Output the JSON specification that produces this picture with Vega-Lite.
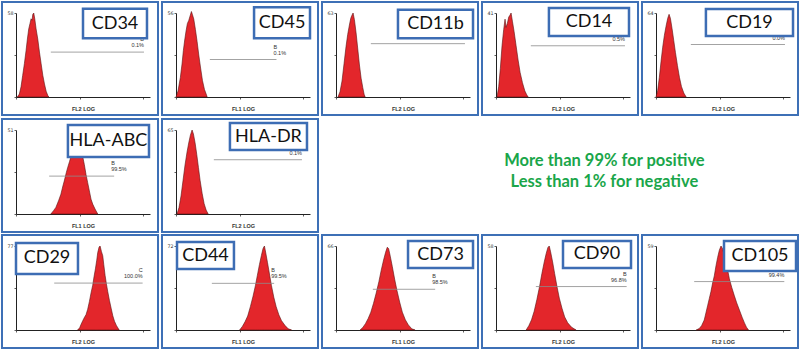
{
"$schema":"https://vega.github.io/schema/vega-lite/v6.json",
"background":"#ffffff",
"padding":0,
"config":{
 "view":{"stroke":null},
 "axis":{"grid":false,"zindex":0,"domainColor":"#222222","domainWidth":1,"tickColor":"#333333","tickWidth":0.8,"tickSize":2,"labelColor":"#333333","labelFont":"DejaVu Sans","labelFontSize":4.8,"labelPadding":1,"titleFont":"Liberation Sans","titleFontSize":5.5,"titleFontWeight":"bold","titleColor":"#333333","titlePadding":2,"labelOverlap":false,"labelFlush":false},
 "text":{"font":"Liberation Sans"}
},
"datasets":{
 "histograms":[
  {"marker":"CD34","fl":0.04,"count":0},{"marker":"CD34","fl":0.10,"count":2},{"marker":"CD34","fl":0.15,"count":7},{"marker":"CD34","fl":0.20,"count":15},{"marker":"CD34","fl":0.25,"count":23},{"marker":"CD34","fl":0.30,"count":32},{"marker":"CD34","fl":0.34,"count":40},{"marker":"CD34","fl":0.38,"count":47},{"marker":"CD34","fl":0.42,"count":51},{"marker":"CD34","fl":0.45,"count":54},{"marker":"CD34","fl":0.48,"count":53},{"marker":"CD34","fl":0.50,"count":57},{"marker":"CD34","fl":0.53,"count":58},{"marker":"CD34","fl":0.56,"count":54},{"marker":"CD34","fl":0.60,"count":47},{"marker":"CD34","fl":0.65,"count":40},{"marker":"CD34","fl":0.70,"count":31},{"marker":"CD34","fl":0.75,"count":23},{"marker":"CD34","fl":0.80,"count":15},{"marker":"CD34","fl":0.85,"count":9},{"marker":"CD34","fl":0.90,"count":4},{"marker":"CD34","fl":0.95,"count":1},{"marker":"CD34","fl":0.98,"count":0},
  {"marker":"CD45","fl":0.00,"count":0},{"marker":"CD45","fl":0.06,"count":4},{"marker":"CD45","fl":0.13,"count":13},{"marker":"CD45","fl":0.18,"count":22},{"marker":"CD45","fl":0.22,"count":31},{"marker":"CD45","fl":0.26,"count":38},{"marker":"CD45","fl":0.30,"count":44},{"marker":"CD45","fl":0.34,"count":49},{"marker":"CD45","fl":0.38,"count":51},{"marker":"CD45","fl":0.42,"count":54},{"marker":"CD45","fl":0.46,"count":57},{"marker":"CD45","fl":0.49,"count":55},{"marker":"CD45","fl":0.53,"count":52},{"marker":"CD45","fl":0.58,"count":45},{"marker":"CD45","fl":0.63,"count":37},{"marker":"CD45","fl":0.68,"count":28},{"marker":"CD45","fl":0.73,"count":20},{"marker":"CD45","fl":0.79,"count":11},{"marker":"CD45","fl":0.85,"count":5},{"marker":"CD45","fl":0.90,"count":2},{"marker":"CD45","fl":0.93,"count":0},
  {"marker":"CD11b","fl":0.06,"count":0},{"marker":"CD11b","fl":0.12,"count":4},{"marker":"CD11b","fl":0.18,"count":12},{"marker":"CD11b","fl":0.24,"count":25},{"marker":"CD11b","fl":0.30,"count":38},{"marker":"CD11b","fl":0.35,"count":47},{"marker":"CD11b","fl":0.40,"count":54},{"marker":"CD11b","fl":0.44,"count":59},{"marker":"CD11b","fl":0.47,"count":61},{"marker":"CD11b","fl":0.51,"count":63},{"marker":"CD11b","fl":0.55,"count":58},{"marker":"CD11b","fl":0.60,"count":48},{"marker":"CD11b","fl":0.65,"count":36},{"marker":"CD11b","fl":0.70,"count":24},{"marker":"CD11b","fl":0.75,"count":14},{"marker":"CD11b","fl":0.80,"count":7},{"marker":"CD11b","fl":0.84,"count":2},{"marker":"CD11b","fl":0.87,"count":0},
  {"marker":"CD14","fl":0.03,"count":0},{"marker":"CD14","fl":0.08,"count":5},{"marker":"CD14","fl":0.13,"count":14},{"marker":"CD14","fl":0.18,"count":25},{"marker":"CD14","fl":0.23,"count":33},{"marker":"CD14","fl":0.27,"count":38},{"marker":"CD14","fl":0.30,"count":34},{"marker":"CD14","fl":0.34,"count":36},{"marker":"CD14","fl":0.38,"count":39},{"marker":"CD14","fl":0.42,"count":40},{"marker":"CD14","fl":0.45,"count":41},{"marker":"CD14","fl":0.49,"count":37},{"marker":"CD14","fl":0.54,"count":32},{"marker":"CD14","fl":0.60,"count":25},{"marker":"CD14","fl":0.66,"count":18},{"marker":"CD14","fl":0.72,"count":12},{"marker":"CD14","fl":0.79,"count":7},{"marker":"CD14","fl":0.86,"count":3},{"marker":"CD14","fl":0.92,"count":1},{"marker":"CD14","fl":0.96,"count":0},
  {"marker":"CD19","fl":0.00,"count":0},{"marker":"CD19","fl":0.05,"count":5},{"marker":"CD19","fl":0.10,"count":15},{"marker":"CD19","fl":0.15,"count":27},{"marker":"CD19","fl":0.20,"count":38},{"marker":"CD19","fl":0.25,"count":47},{"marker":"CD19","fl":0.30,"count":54},{"marker":"CD19","fl":0.35,"count":60},{"marker":"CD19","fl":0.39,"count":63},{"marker":"CD19","fl":0.43,"count":60},{"marker":"CD19","fl":0.48,"count":52},{"marker":"CD19","fl":0.53,"count":43},{"marker":"CD19","fl":0.58,"count":34},{"marker":"CD19","fl":0.64,"count":24},{"marker":"CD19","fl":0.70,"count":15},{"marker":"CD19","fl":0.76,"count":8},{"marker":"CD19","fl":0.83,"count":3},{"marker":"CD19","fl":0.90,"count":0},
  {"marker":"HLA-ABC","fl":1.04,"count":0},{"marker":"HLA-ABC","fl":1.12,"count":2},{"marker":"HLA-ABC","fl":1.19,"count":4},{"marker":"HLA-ABC","fl":1.27,"count":8},{"marker":"HLA-ABC","fl":1.34,"count":12},{"marker":"HLA-ABC","fl":1.40,"count":17},{"marker":"HLA-ABC","fl":1.44,"count":20},{"marker":"HLA-ABC","fl":1.50,"count":25},{"marker":"HLA-ABC","fl":1.54,"count":28},{"marker":"HLA-ABC","fl":1.60,"count":32},{"marker":"HLA-ABC","fl":1.64,"count":35},{"marker":"HLA-ABC","fl":1.70,"count":40},{"marker":"HLA-ABC","fl":1.76,"count":45},{"marker":"HLA-ABC","fl":1.82,"count":49},{"marker":"HLA-ABC","fl":1.86,"count":50},{"marker":"HLA-ABC","fl":1.90,"count":47},{"marker":"HLA-ABC","fl":1.95,"count":41},{"marker":"HLA-ABC","fl":1.99,"count":35},{"marker":"HLA-ABC","fl":2.04,"count":30},{"marker":"HLA-ABC","fl":2.09,"count":24},{"marker":"HLA-ABC","fl":2.14,"count":19},{"marker":"HLA-ABC","fl":2.19,"count":14},{"marker":"HLA-ABC","fl":2.24,"count":9},{"marker":"HLA-ABC","fl":2.29,"count":6},{"marker":"HLA-ABC","fl":2.36,"count":3},{"marker":"HLA-ABC","fl":2.44,"count":0},
  {"marker":"HLA-DR","fl":0.03,"count":0},{"marker":"HLA-DR","fl":0.09,"count":5},{"marker":"HLA-DR","fl":0.15,"count":14},{"marker":"HLA-DR","fl":0.21,"count":26},{"marker":"HLA-DR","fl":0.27,"count":38},{"marker":"HLA-DR","fl":0.33,"count":48},{"marker":"HLA-DR","fl":0.38,"count":55},{"marker":"HLA-DR","fl":0.43,"count":61},{"marker":"HLA-DR","fl":0.48,"count":65},{"marker":"HLA-DR","fl":0.52,"count":62},{"marker":"HLA-DR","fl":0.57,"count":55},{"marker":"HLA-DR","fl":0.62,"count":46},{"marker":"HLA-DR","fl":0.67,"count":36},{"marker":"HLA-DR","fl":0.72,"count":26},{"marker":"HLA-DR","fl":0.78,"count":16},{"marker":"HLA-DR","fl":0.84,"count":8},{"marker":"HLA-DR","fl":0.90,"count":3},{"marker":"HLA-DR","fl":0.96,"count":0},
  {"marker":"CD29","fl":1.84,"count":0},{"marker":"CD29","fl":1.90,"count":2},{"marker":"CD29","fl":1.94,"count":5},{"marker":"CD29","fl":2.00,"count":9},{"marker":"CD29","fl":2.05,"count":12},{"marker":"CD29","fl":2.09,"count":14},{"marker":"CD29","fl":2.14,"count":19},{"marker":"CD29","fl":2.19,"count":26},{"marker":"CD29","fl":2.24,"count":34},{"marker":"CD29","fl":2.29,"count":41},{"marker":"CD29","fl":2.33,"count":49},{"marker":"CD29","fl":2.37,"count":56},{"marker":"CD29","fl":2.41,"count":64},{"marker":"CD29","fl":2.44,"count":71},{"marker":"CD29","fl":2.48,"count":76},{"marker":"CD29","fl":2.51,"count":77},{"marker":"CD29","fl":2.55,"count":72},{"marker":"CD29","fl":2.59,"count":68},{"marker":"CD29","fl":2.62,"count":60},{"marker":"CD29","fl":2.66,"count":50},{"marker":"CD29","fl":2.70,"count":42},{"marker":"CD29","fl":2.74,"count":35},{"marker":"CD29","fl":2.79,"count":27},{"marker":"CD29","fl":2.84,"count":20},{"marker":"CD29","fl":2.89,"count":13},{"marker":"CD29","fl":2.94,"count":8},{"marker":"CD29","fl":3.00,"count":4},{"marker":"CD29","fl":3.08,"count":0},
  {"marker":"CD44","fl":1.90,"count":0},{"marker":"CD44","fl":1.98,"count":3},{"marker":"CD44","fl":2.06,"count":7},{"marker":"CD44","fl":2.14,"count":12},{"marker":"CD44","fl":2.22,"count":20},{"marker":"CD44","fl":2.30,"count":29},{"marker":"CD44","fl":2.37,"count":38},{"marker":"CD44","fl":2.43,"count":47},{"marker":"CD44","fl":2.49,"count":56},{"marker":"CD44","fl":2.55,"count":64},{"marker":"CD44","fl":2.60,"count":70},{"marker":"CD44","fl":2.64,"count":72},{"marker":"CD44","fl":2.68,"count":66},{"marker":"CD44","fl":2.73,"count":58},{"marker":"CD44","fl":2.79,"count":48},{"marker":"CD44","fl":2.85,"count":38},{"marker":"CD44","fl":2.92,"count":28},{"marker":"CD44","fl":2.99,"count":20},{"marker":"CD44","fl":3.07,"count":13},{"marker":"CD44","fl":3.15,"count":8},{"marker":"CD44","fl":3.25,"count":4},{"marker":"CD44","fl":3.35,"count":1},{"marker":"CD44","fl":3.45,"count":0},
  {"marker":"CD73","fl":0.72,"count":0},{"marker":"CD73","fl":0.80,"count":2},{"marker":"CD73","fl":0.88,"count":5},{"marker":"CD73","fl":0.96,"count":9},{"marker":"CD73","fl":1.04,"count":14},{"marker":"CD73","fl":1.12,"count":21},{"marker":"CD73","fl":1.20,"count":29},{"marker":"CD73","fl":1.28,"count":38},{"marker":"CD73","fl":1.35,"count":47},{"marker":"CD73","fl":1.42,"count":55},{"marker":"CD73","fl":1.48,"count":61},{"marker":"CD73","fl":1.53,"count":65},{"marker":"CD73","fl":1.57,"count":64},{"marker":"CD73","fl":1.62,"count":58},{"marker":"CD73","fl":1.68,"count":50},{"marker":"CD73","fl":1.75,"count":40},{"marker":"CD73","fl":1.82,"count":31},{"marker":"CD73","fl":1.90,"count":22},{"marker":"CD73","fl":1.98,"count":14},{"marker":"CD73","fl":2.07,"count":8},{"marker":"CD73","fl":2.16,"count":4},{"marker":"CD73","fl":2.26,"count":1},{"marker":"CD73","fl":2.36,"count":0},
  {"marker":"CD90","fl":0.90,"count":0},{"marker":"CD90","fl":0.98,"count":3},{"marker":"CD90","fl":1.06,"count":7},{"marker":"CD90","fl":1.14,"count":13},{"marker":"CD90","fl":1.22,"count":21},{"marker":"CD90","fl":1.30,"count":30},{"marker":"CD90","fl":1.37,"count":39},{"marker":"CD90","fl":1.44,"count":47},{"marker":"CD90","fl":1.50,"count":53},{"marker":"CD90","fl":1.55,"count":57},{"marker":"CD90","fl":1.59,"count":58},{"marker":"CD90","fl":1.63,"count":54},{"marker":"CD90","fl":1.69,"count":47},{"marker":"CD90","fl":1.75,"count":39},{"marker":"CD90","fl":1.82,"count":30},{"marker":"CD90","fl":1.89,"count":22},{"marker":"CD90","fl":1.97,"count":15},{"marker":"CD90","fl":2.05,"count":9},{"marker":"CD90","fl":2.14,"count":5},{"marker":"CD90","fl":2.25,"count":2},{"marker":"CD90","fl":2.39,"count":0},
  {"marker":"CD105","fl":1.20,"count":0},{"marker":"CD105","fl":1.29,"count":1},{"marker":"CD105","fl":1.36,"count":3},{"marker":"CD105","fl":1.44,"count":7},{"marker":"CD105","fl":1.49,"count":12},{"marker":"CD105","fl":1.54,"count":17},{"marker":"CD105","fl":1.59,"count":22},{"marker":"CD105","fl":1.64,"count":27},{"marker":"CD105","fl":1.69,"count":33},{"marker":"CD105","fl":1.74,"count":38},{"marker":"CD105","fl":1.79,"count":45},{"marker":"CD105","fl":1.84,"count":51},{"marker":"CD105","fl":1.89,"count":56},{"marker":"CD105","fl":1.94,"count":59},{"marker":"CD105","fl":1.99,"count":57},{"marker":"CD105","fl":2.04,"count":52},{"marker":"CD105","fl":2.09,"count":48},{"marker":"CD105","fl":2.14,"count":42},{"marker":"CD105","fl":2.19,"count":36},{"marker":"CD105","fl":2.26,"count":30},{"marker":"CD105","fl":2.34,"count":24},{"marker":"CD105","fl":2.41,"count":19},{"marker":"CD105","fl":2.49,"count":14},{"marker":"CD105","fl":2.57,"count":9},{"marker":"CD105","fl":2.64,"count":5},{"marker":"CD105","fl":2.70,"count":2},{"marker":"CD105","fl":2.76,"count":0}
 ],
 "gates":[
  {"marker":"CD34","gate":"B","pct":"0.1%","start":1.04,"end":3.82,"level":31},
  {"marker":"CD45","gate":"B","pct":"0.1%","start":1.01,"end":3.0,"level":25},
  {"marker":"CD11b","gate":"B","pct":"0.1%","start":1.04,"end":3.85,"level":40},
  {"marker":"CD14","gate":"B","pct":"0.5%","start":1.04,"end":3.85,"level":25},
  {"marker":"CD19","gate":"B","pct":"0.0%","start":1.04,"end":3.85,"level":40},
  {"marker":"HLA-ABC","gate":"B","pct":"99.5%","start":0.99,"end":2.93,"level":23},
  {"marker":"HLA-DR","gate":"B","pct":"0.1%","start":1.13,"end":3.76,"level":42},
  {"marker":"CD29","gate":"C","pct":"100.0%","start":1.14,"end":3.78,"level":43},
  {"marker":"CD44","gate":"B","pct":"99.5%","start":1.07,"end":2.93,"level":40},
  {"marker":"CD73","gate":"B","pct":"98.5%","start":1.10,"end":2.96,"level":32},
  {"marker":"CD90","gate":"B","pct":"96.8%","start":1.19,"end":3.9,"level":30},
  {"marker":"CD105","gate":"B","pct":"99.4%","start":1.14,"end":3.83,"level":34}
 ],
 "notes":[
  {"line":1,"text":"More than 99% for positive"},
  {"line":2,"text":"Less than 1% for negative"}
 ]
},
"vconcat":[
 {"spacing":0,"hconcat":[
  {"width":134,"height":84,"layer":[
   {"data":{"name":"gates"},"transform":[{"filter":"datum.marker==='CD34'"}],"mark":{"type":"rect","filled":false,"stroke":"#3e70b6","strokeWidth":2},"encoding":{"x":{"datum":-0.418,"type":"quantitative"},"x2":{"datum":4.239},"y":{"datum":65.6,"type":"quantitative"},"y2":{"datum":-12.4}}},
   {"data":{"name":"histograms"},"transform":[{"filter":"datum.marker==='CD34'"}],"mark":{"type":"area","color":"#e3262b","stroke":"#5a1212","strokeWidth":0.6},"encoding":{"x":{"field":"fl","type":"quantitative","scale":{"domain":[0,4],"nice":false,"zero":false},"axis":{"title":"FL2 LOG","values":[0,0.301,0.477,0.602,0.699,0.778,0.845,0.903,0.954,1,1.301,1.477,1.602,1.699,1.778,1.845,1.903,1.954,2,2.301,2.477,2.602,2.699,2.778,2.845,2.903,2.954,3,3.301,3.477,3.602,3.699,3.778,3.845,3.903,3.954,4],"labelExpr":"datum.value==1?'10¹':datum.value==2?'10²':datum.value==3?'10³':datum.value==4?'10⁴':''"}},"y":{"field":"count","type":"quantitative","scale":{"domain":[0,58],"nice":false,"zero":false},"axis":{"title":null,"values":[0,7.25,14.5,21.75,29,36.25,43.5,50.75,58],"labelExpr":"datum.index==1?datum.label:''"}}}},
   {"data":{"name":"gates"},"transform":[{"filter":"datum.marker==='CD34'"}],"mark":{"type":"rule","color":"#8c8c8c","strokeWidth":0.8},"encoding":{"x":{"field":"start","type":"quantitative"},"x2":{"field":"end"},"y":{"field":"level","type":"quantitative"}}},
   {"data":{"name":"gates"},"transform":[{"filter":"datum.marker==='CD34'"}],"mark":{"type":"text","align":"right","dy":-13,"fontSize":5.5,"color":"#333333"},"encoding":{"x":{"field":"end","type":"quantitative"},"y":{"field":"level","type":"quantitative"},"text":{"field":"gate"}}},
   {"data":{"name":"gates"},"transform":[{"filter":"datum.marker==='CD34'"}],"mark":{"type":"text","align":"right","dy":-7,"fontSize":5.5,"color":"#333333"},"encoding":{"x":{"field":"end","type":"quantitative"},"y":{"field":"level","type":"quantitative"},"text":{"field":"pct"}}},
   {"data":{"name":"gates"},"transform":[{"filter":"datum.marker==='CD34'"}],"mark":{"type":"rect","fill":"#ffffff","stroke":"#3d6db4","strokeWidth":2.5},"encoding":{"x":{"datum":2.0,"type":"quantitative"},"x2":{"datum":3.91},"y":{"datum":60.9,"type":"quantitative"},"y2":{"datum":40.6}}},
   {"data":{"name":"gates"},"transform":[{"filter":"datum.marker==='CD34'"}],"mark":{"type":"text","font":"Lato","fontSize":18,"color":"#111111"},"encoding":{"x":{"datum":2.955,"type":"quantitative"},"y":{"datum":50.75,"type":"quantitative"},"text":{"field":"marker"}}}
  ]},
  {"width":134,"height":84,"layer":[
   {"data":{"name":"gates"},"transform":[{"filter":"datum.marker==='CD45'"}],"mark":{"type":"rect","filled":false,"stroke":"#3e70b6","strokeWidth":2},"encoding":{"x":{"datum":-0.418,"type":"quantitative"},"x2":{"datum":4.239},"y":{"datum":63.3,"type":"quantitative"},"y2":{"datum":-12.0}}},
   {"data":{"name":"histograms"},"transform":[{"filter":"datum.marker==='CD45'"}],"mark":{"type":"area","color":"#e3262b","stroke":"#5a1212","strokeWidth":0.6},"encoding":{"x":{"field":"fl","type":"quantitative","scale":{"domain":[0,4],"nice":false,"zero":false},"axis":{"title":"FL1 LOG","values":[0,0.301,0.477,0.602,0.699,0.778,0.845,0.903,0.954,1,1.301,1.477,1.602,1.699,1.778,1.845,1.903,1.954,2,2.301,2.477,2.602,2.699,2.778,2.845,2.903,2.954,3,3.301,3.477,3.602,3.699,3.778,3.845,3.903,3.954,4],"labelExpr":"datum.value==1?'10¹':datum.value==2?'10²':datum.value==3?'10³':datum.value==4?'10⁴':''"}},"y":{"field":"count","type":"quantitative","scale":{"domain":[0,56],"nice":false,"zero":false},"axis":{"title":null,"values":[0,7,14,21,28,35,42,49,56],"labelExpr":"datum.index==1?datum.label:''"}}}},
   {"data":{"name":"gates"},"transform":[{"filter":"datum.marker==='CD45'"}],"mark":{"type":"rule","color":"#8c8c8c","strokeWidth":0.8},"encoding":{"x":{"field":"start","type":"quantitative"},"x2":{"field":"end"},"y":{"field":"level","type":"quantitative"}}},
   {"data":{"name":"gates"},"transform":[{"filter":"datum.marker==='CD45'"}],"mark":{"type":"text","align":"left","dx":-3,"dy":-13,"fontSize":5.5,"color":"#333333"},"encoding":{"x":{"field":"end","type":"quantitative"},"y":{"field":"level","type":"quantitative"},"text":{"field":"gate"}}},
   {"data":{"name":"gates"},"transform":[{"filter":"datum.marker==='CD45'"}],"mark":{"type":"text","align":"left","dx":-3,"dy":-7,"fontSize":5.5,"color":"#333333"},"encoding":{"x":{"field":"end","type":"quantitative"},"y":{"field":"level","type":"quantitative"},"text":{"field":"pct"}}},
   {"data":{"name":"gates"},"transform":[{"filter":"datum.marker==='CD45'"}],"mark":{"type":"rect","fill":"#ffffff","stroke":"#3d6db4","strokeWidth":2.5},"encoding":{"x":{"datum":2.33,"type":"quantitative"},"x2":{"datum":4.0},"y":{"datum":59.9,"type":"quantitative"},"y2":{"datum":39.2}}},
   {"data":{"name":"gates"},"transform":[{"filter":"datum.marker==='CD45'"}],"mark":{"type":"text","font":"Lato","fontSize":18,"color":"#111111"},"encoding":{"x":{"datum":3.165,"type":"quantitative"},"y":{"datum":49.55,"type":"quantitative"},"text":{"field":"marker"}}}
  ]},
  {"width":134,"height":84,"layer":[
   {"data":{"name":"gates"},"transform":[{"filter":"datum.marker==='CD11b'"}],"mark":{"type":"rect","filled":false,"stroke":"#3e70b6","strokeWidth":2},"encoding":{"x":{"datum":-0.418,"type":"quantitative"},"x2":{"datum":4.239},"y":{"datum":71.3,"type":"quantitative"},"y2":{"datum":-13.5}}},
   {"data":{"name":"histograms"},"transform":[{"filter":"datum.marker==='CD11b'"}],"mark":{"type":"area","color":"#e3262b","stroke":"#5a1212","strokeWidth":0.6},"encoding":{"x":{"field":"fl","type":"quantitative","scale":{"domain":[0,4],"nice":false,"zero":false},"axis":{"title":"FL2 LOG","values":[0,0.301,0.477,0.602,0.699,0.778,0.845,0.903,0.954,1,1.301,1.477,1.602,1.699,1.778,1.845,1.903,1.954,2,2.301,2.477,2.602,2.699,2.778,2.845,2.903,2.954,3,3.301,3.477,3.602,3.699,3.778,3.845,3.903,3.954,4],"labelExpr":"datum.value==1?'10¹':datum.value==2?'10²':datum.value==3?'10³':datum.value==4?'10⁴':''"}},"y":{"field":"count","type":"quantitative","scale":{"domain":[0,63],"nice":false,"zero":false},"axis":{"title":null,"values":[0,7.9,15.8,23.6,31.5,39.4,47.3,55.1,63],"labelExpr":"datum.index==1?datum.label:''"}}}},
   {"data":{"name":"gates"},"transform":[{"filter":"datum.marker==='CD11b'"}],"mark":{"type":"rule","color":"#8c8c8c","strokeWidth":0.8},"encoding":{"x":{"field":"start","type":"quantitative"},"x2":{"field":"end"},"y":{"field":"level","type":"quantitative"}}},
   {"data":{"name":"gates"},"transform":[{"filter":"datum.marker==='CD11b'"}],"mark":{"type":"text","align":"right","dy":-13,"fontSize":5.5,"color":"#333333"},"encoding":{"x":{"field":"end","type":"quantitative"},"y":{"field":"level","type":"quantitative"},"text":{"field":"gate"}}},
   {"data":{"name":"gates"},"transform":[{"filter":"datum.marker==='CD11b'"}],"mark":{"type":"text","align":"right","dy":-7,"fontSize":5.5,"color":"#333333"},"encoding":{"x":{"field":"end","type":"quantitative"},"y":{"field":"level","type":"quantitative"},"text":{"field":"pct"}}},
   {"data":{"name":"gates"},"transform":[{"filter":"datum.marker==='CD11b'"}],"mark":{"type":"rect","fill":"#ffffff","stroke":"#3d6db4","strokeWidth":2.5},"encoding":{"x":{"datum":1.85,"type":"quantitative"},"x2":{"datum":4.09},"y":{"datum":65.5,"type":"quantitative"},"y2":{"datum":44.1}}},
   {"data":{"name":"gates"},"transform":[{"filter":"datum.marker==='CD11b'"}],"mark":{"type":"text","font":"Lato","fontSize":18,"color":"#111111"},"encoding":{"x":{"datum":2.97,"type":"quantitative"},"y":{"datum":54.8,"type":"quantitative"},"text":{"field":"marker"}}}
  ]},
  {"width":134,"height":84,"layer":[
   {"data":{"name":"gates"},"transform":[{"filter":"datum.marker==='CD14'"}],"mark":{"type":"rect","filled":false,"stroke":"#3e70b6","strokeWidth":2},"encoding":{"x":{"datum":-0.418,"type":"quantitative"},"x2":{"datum":4.239},"y":{"datum":46.4,"type":"quantitative"},"y2":{"datum":-8.8}}},
   {"data":{"name":"histograms"},"transform":[{"filter":"datum.marker==='CD14'"}],"mark":{"type":"area","color":"#e3262b","stroke":"#5a1212","strokeWidth":0.6},"encoding":{"x":{"field":"fl","type":"quantitative","scale":{"domain":[0,4],"nice":false,"zero":false},"axis":{"title":"FL2 LOG","values":[0,0.301,0.477,0.602,0.699,0.778,0.845,0.903,0.954,1,1.301,1.477,1.602,1.699,1.778,1.845,1.903,1.954,2,2.301,2.477,2.602,2.699,2.778,2.845,2.903,2.954,3,3.301,3.477,3.602,3.699,3.778,3.845,3.903,3.954,4],"labelExpr":"datum.value==1?'10¹':datum.value==2?'10²':datum.value==3?'10³':datum.value==4?'10⁴':''"}},"y":{"field":"count","type":"quantitative","scale":{"domain":[0,41],"nice":false,"zero":false},"axis":{"title":null,"values":[0,5.1,10.3,15.4,20.5,25.6,30.8,35.9,41],"labelExpr":"datum.index==1?datum.label:''"}}}},
   {"data":{"name":"gates"},"transform":[{"filter":"datum.marker==='CD14'"}],"mark":{"type":"rule","color":"#8c8c8c","strokeWidth":0.8},"encoding":{"x":{"field":"start","type":"quantitative"},"x2":{"field":"end"},"y":{"field":"level","type":"quantitative"}}},
   {"data":{"name":"gates"},"transform":[{"filter":"datum.marker==='CD14'"}],"mark":{"type":"text","align":"right","dy":-13,"fontSize":5.5,"color":"#333333"},"encoding":{"x":{"field":"end","type":"quantitative"},"y":{"field":"level","type":"quantitative"},"text":{"field":"gate"}}},
   {"data":{"name":"gates"},"transform":[{"filter":"datum.marker==='CD14'"}],"mark":{"type":"text","align":"right","dy":-7,"fontSize":5.5,"color":"#333333"},"encoding":{"x":{"field":"end","type":"quantitative"},"y":{"field":"level","type":"quantitative"},"text":{"field":"pct"}}},
   {"data":{"name":"gates"},"transform":[{"filter":"datum.marker==='CD14'"}],"mark":{"type":"rect","fill":"#ffffff","stroke":"#3d6db4","strokeWidth":2.5},"encoding":{"x":{"datum":1.58,"type":"quantitative"},"x2":{"datum":3.97},"y":{"datum":43.4,"type":"quantitative"},"y2":{"datum":29.8}}},
   {"data":{"name":"gates"},"transform":[{"filter":"datum.marker==='CD14'"}],"mark":{"type":"text","font":"Lato","fontSize":18,"color":"#111111"},"encoding":{"x":{"datum":2.775,"type":"quantitative"},"y":{"datum":36.6,"type":"quantitative"},"text":{"field":"marker"}}}
  ]},
  {"width":134,"height":84,"layer":[
   {"data":{"name":"gates"},"transform":[{"filter":"datum.marker==='CD19'"}],"mark":{"type":"rect","filled":false,"stroke":"#3e70b6","strokeWidth":2},"encoding":{"x":{"datum":-0.418,"type":"quantitative"},"x2":{"datum":4.239},"y":{"datum":72.4,"type":"quantitative"},"y2":{"datum":-13.7}}},
   {"data":{"name":"histograms"},"transform":[{"filter":"datum.marker==='CD19'"}],"mark":{"type":"area","color":"#e3262b","stroke":"#5a1212","strokeWidth":0.6},"encoding":{"x":{"field":"fl","type":"quantitative","scale":{"domain":[0,4],"nice":false,"zero":false},"axis":{"title":"FL2 LOG","values":[0,0.301,0.477,0.602,0.699,0.778,0.845,0.903,0.954,1,1.301,1.477,1.602,1.699,1.778,1.845,1.903,1.954,2,2.301,2.477,2.602,2.699,2.778,2.845,2.903,2.954,3,3.301,3.477,3.602,3.699,3.778,3.845,3.903,3.954,4],"labelExpr":"datum.value==1?'10¹':datum.value==2?'10²':datum.value==3?'10³':datum.value==4?'10⁴':''"}},"y":{"field":"count","type":"quantitative","scale":{"domain":[0,64],"nice":false,"zero":false},"axis":{"title":null,"values":[0,8,16,24,32,40,48,56,64],"labelExpr":"datum.index==1?datum.label:''"}}}},
   {"data":{"name":"gates"},"transform":[{"filter":"datum.marker==='CD19'"}],"mark":{"type":"rule","color":"#8c8c8c","strokeWidth":0.8},"encoding":{"x":{"field":"start","type":"quantitative"},"x2":{"field":"end"},"y":{"field":"level","type":"quantitative"}}},
   {"data":{"name":"gates"},"transform":[{"filter":"datum.marker==='CD19'"}],"mark":{"type":"text","align":"right","dy":-13,"fontSize":5.5,"color":"#333333"},"encoding":{"x":{"field":"end","type":"quantitative"},"y":{"field":"level","type":"quantitative"},"text":{"field":"gate"}}},
   {"data":{"name":"gates"},"transform":[{"filter":"datum.marker==='CD19'"}],"mark":{"type":"text","align":"right","dy":-7,"fontSize":5.5,"color":"#333333"},"encoding":{"x":{"field":"end","type":"quantitative"},"y":{"field":"level","type":"quantitative"},"text":{"field":"pct"}}},
   {"data":{"name":"gates"},"transform":[{"filter":"datum.marker==='CD19'"}],"mark":{"type":"rect","fill":"#ffffff","stroke":"#3d6db4","strokeWidth":2.5},"encoding":{"x":{"datum":1.49,"type":"quantitative"},"x2":{"datum":4.09},"y":{"datum":67.0,"type":"quantitative"},"y2":{"datum":46.5}}},
   {"data":{"name":"gates"},"transform":[{"filter":"datum.marker==='CD19'"}],"mark":{"type":"text","font":"Lato","fontSize":18,"color":"#111111"},"encoding":{"x":{"datum":2.79,"type":"quantitative"},"y":{"datum":56.75,"type":"quantitative"},"text":{"field":"marker"}}}
  ]}
 ]},
 {"spacing":0,"hconcat":[
  {"width":134,"height":84,"layer":[
   {"data":{"name":"gates"},"transform":[{"filter":"datum.marker==='HLA-ABC'"}],"mark":{"type":"rect","filled":false,"stroke":"#3e70b6","strokeWidth":2},"encoding":{"x":{"datum":-0.418,"type":"quantitative"},"x2":{"datum":4.239},"y":{"datum":57.7,"type":"quantitative"},"y2":{"datum":-10.9}}},
   {"data":{"name":"histograms"},"transform":[{"filter":"datum.marker==='HLA-ABC'"}],"mark":{"type":"area","color":"#e3262b","stroke":"#5a1212","strokeWidth":0.6},"encoding":{"x":{"field":"fl","type":"quantitative","scale":{"domain":[0,4],"nice":false,"zero":false},"axis":{"title":"FL1 LOG","values":[0,0.301,0.477,0.602,0.699,0.778,0.845,0.903,0.954,1,1.301,1.477,1.602,1.699,1.778,1.845,1.903,1.954,2,2.301,2.477,2.602,2.699,2.778,2.845,2.903,2.954,3,3.301,3.477,3.602,3.699,3.778,3.845,3.903,3.954,4],"labelExpr":"datum.value==1?'10¹':datum.value==2?'10²':datum.value==3?'10³':datum.value==4?'10⁴':''"}},"y":{"field":"count","type":"quantitative","scale":{"domain":[0,51],"nice":false,"zero":false},"axis":{"title":null,"values":[0,6.4,12.8,19.1,25.5,31.9,38.3,44.6,51],"labelExpr":"datum.index==1?datum.label:''"}}}},
   {"data":{"name":"gates"},"transform":[{"filter":"datum.marker==='HLA-ABC'"}],"mark":{"type":"rule","color":"#8c8c8c","strokeWidth":0.8},"encoding":{"x":{"field":"start","type":"quantitative"},"x2":{"field":"end"},"y":{"field":"level","type":"quantitative"}}},
   {"data":{"name":"gates"},"transform":[{"filter":"datum.marker==='HLA-ABC'"}],"mark":{"type":"text","align":"left","dx":-3,"dy":-13,"fontSize":5.5,"color":"#333333"},"encoding":{"x":{"field":"end","type":"quantitative"},"y":{"field":"level","type":"quantitative"},"text":{"field":"gate"}}},
   {"data":{"name":"gates"},"transform":[{"filter":"datum.marker==='HLA-ABC'"}],"mark":{"type":"text","align":"left","dx":-3,"dy":-7,"fontSize":5.5,"color":"#333333"},"encoding":{"x":{"field":"end","type":"quantitative"},"y":{"field":"level","type":"quantitative"},"text":{"field":"pct"}}},
   {"data":{"name":"gates"},"transform":[{"filter":"datum.marker==='HLA-ABC'"}],"mark":{"type":"rect","fill":"#ffffff","stroke":"#3d6db4","strokeWidth":2.5},"encoding":{"x":{"datum":1.55,"type":"quantitative"},"x2":{"datum":3.97},"y":{"datum":54.0,"type":"quantitative"},"y2":{"datum":34.6}}},
   {"data":{"name":"gates"},"transform":[{"filter":"datum.marker==='HLA-ABC'"}],"mark":{"type":"text","font":"Lato","fontSize":18,"color":"#111111"},"encoding":{"x":{"datum":2.76,"type":"quantitative"},"y":{"datum":44.3,"type":"quantitative"},"text":{"field":"marker"}}}
  ]},
  {"width":134,"height":84,"layer":[
   {"data":{"name":"gates"},"transform":[{"filter":"datum.marker==='HLA-DR'"}],"mark":{"type":"rect","filled":false,"stroke":"#3e70b6","strokeWidth":2},"encoding":{"x":{"datum":-0.418,"type":"quantitative"},"x2":{"datum":4.239},"y":{"datum":73.5,"type":"quantitative"},"y2":{"datum":-13.9}}},
   {"data":{"name":"histograms"},"transform":[{"filter":"datum.marker==='HLA-DR'"}],"mark":{"type":"area","color":"#e3262b","stroke":"#5a1212","strokeWidth":0.6},"encoding":{"x":{"field":"fl","type":"quantitative","scale":{"domain":[0,4],"nice":false,"zero":false},"axis":{"title":"FL2 LOG","values":[0,0.301,0.477,0.602,0.699,0.778,0.845,0.903,0.954,1,1.301,1.477,1.602,1.699,1.778,1.845,1.903,1.954,2,2.301,2.477,2.602,2.699,2.778,2.845,2.903,2.954,3,3.301,3.477,3.602,3.699,3.778,3.845,3.903,3.954,4],"labelExpr":"datum.value==1?'10¹':datum.value==2?'10²':datum.value==3?'10³':datum.value==4?'10⁴':''"}},"y":{"field":"count","type":"quantitative","scale":{"domain":[0,65],"nice":false,"zero":false},"axis":{"title":null,"values":[0,8.1,16.3,24.4,32.5,40.6,48.8,56.9,65],"labelExpr":"datum.index==1?datum.label:''"}}}},
   {"data":{"name":"gates"},"transform":[{"filter":"datum.marker==='HLA-DR'"}],"mark":{"type":"rule","color":"#8c8c8c","strokeWidth":0.8},"encoding":{"x":{"field":"start","type":"quantitative"},"x2":{"field":"end"},"y":{"field":"level","type":"quantitative"}}},
   {"data":{"name":"gates"},"transform":[{"filter":"datum.marker==='HLA-DR'"}],"mark":{"type":"text","align":"right","dy":-13,"fontSize":5.5,"color":"#333333"},"encoding":{"x":{"field":"end","type":"quantitative"},"y":{"field":"level","type":"quantitative"},"text":{"field":"gate"}}},
   {"data":{"name":"gates"},"transform":[{"filter":"datum.marker==='HLA-DR'"}],"mark":{"type":"text","align":"right","dy":-7,"fontSize":5.5,"color":"#333333"},"encoding":{"x":{"field":"end","type":"quantitative"},"y":{"field":"level","type":"quantitative"},"text":{"field":"pct"}}},
   {"data":{"name":"gates"},"transform":[{"filter":"datum.marker==='HLA-DR'"}],"mark":{"type":"rect","fill":"#ffffff","stroke":"#3d6db4","strokeWidth":2.5},"encoding":{"x":{"datum":1.61,"type":"quantitative"},"x2":{"datum":3.91},"y":{"datum":70.4,"type":"quantitative"},"y2":{"datum":49.5}}},
   {"data":{"name":"gates"},"transform":[{"filter":"datum.marker==='HLA-DR'"}],"mark":{"type":"text","font":"Lato","fontSize":18,"color":"#111111"},"encoding":{"x":{"datum":2.76,"type":"quantitative"},"y":{"datum":59.95,"type":"quantitative"},"text":{"field":"marker"}}}
  ]},
  {"width":474,"height":84,"data":{"name":"notes"},"mark":{"type":"text","color":"#1aa64a","font":"Lato","fontSize":16.5,"fontWeight":"bold"},"encoding":{"text":{"field":"text"},"x":{"datum":0.6,"type":"quantitative","scale":{"domain":[0,1],"nice":false,"zero":false},"axis":null},"y":{"field":"line","type":"quantitative","scale":{"domain":[-0.476,3.524],"reverse":true,"nice":false,"zero":false},"axis":null}}}
 ]},
 {"spacing":0,"hconcat":[
  {"width":134,"height":84,"layer":[
   {"data":{"name":"gates"},"transform":[{"filter":"datum.marker==='CD29'"}],"mark":{"type":"rect","filled":false,"stroke":"#3e70b6","strokeWidth":2},"encoding":{"x":{"datum":-0.418,"type":"quantitative"},"x2":{"datum":4.239},"y":{"datum":87.1,"type":"quantitative"},"y2":{"datum":-16.5}}},
   {"data":{"name":"histograms"},"transform":[{"filter":"datum.marker==='CD29'"}],"mark":{"type":"area","color":"#e3262b","stroke":"#5a1212","strokeWidth":0.6},"encoding":{"x":{"field":"fl","type":"quantitative","scale":{"domain":[0,4],"nice":false,"zero":false},"axis":{"title":"FL2 LOG","values":[0,0.301,0.477,0.602,0.699,0.778,0.845,0.903,0.954,1,1.301,1.477,1.602,1.699,1.778,1.845,1.903,1.954,2,2.301,2.477,2.602,2.699,2.778,2.845,2.903,2.954,3,3.301,3.477,3.602,3.699,3.778,3.845,3.903,3.954,4],"labelExpr":"datum.value==1?'10¹':datum.value==2?'10²':datum.value==3?'10³':datum.value==4?'10⁴':''"}},"y":{"field":"count","type":"quantitative","scale":{"domain":[0,77],"nice":false,"zero":false},"axis":{"title":null,"values":[0,9.6,19.3,28.9,38.5,48.1,57.8,67.4,77],"labelExpr":"datum.index==1?datum.label:''"}}}},
   {"data":{"name":"gates"},"transform":[{"filter":"datum.marker==='CD29'"}],"mark":{"type":"rule","color":"#8c8c8c","strokeWidth":0.8},"encoding":{"x":{"field":"start","type":"quantitative"},"x2":{"field":"end"},"y":{"field":"level","type":"quantitative"}}},
   {"data":{"name":"gates"},"transform":[{"filter":"datum.marker==='CD29'"}],"mark":{"type":"text","align":"right","dy":-13,"fontSize":5.5,"color":"#333333"},"encoding":{"x":{"field":"end","type":"quantitative"},"y":{"field":"level","type":"quantitative"},"text":{"field":"gate"}}},
   {"data":{"name":"gates"},"transform":[{"filter":"datum.marker==='CD29'"}],"mark":{"type":"text","align":"right","dy":-7,"fontSize":5.5,"color":"#333333"},"encoding":{"x":{"field":"end","type":"quantitative"},"y":{"field":"level","type":"quantitative"},"text":{"field":"pct"}}},
   {"data":{"name":"gates"},"transform":[{"filter":"datum.marker==='CD29'"}],"mark":{"type":"rect","fill":"#ffffff","stroke":"#3d6db4","strokeWidth":2.5},"encoding":{"x":{"datum":0.0,"type":"quantitative"},"x2":{"datum":1.85},"y":{"datum":79.8,"type":"quantitative"},"y2":{"datum":51.3}}},
   {"data":{"name":"gates"},"transform":[{"filter":"datum.marker==='CD29'"}],"mark":{"type":"text","font":"Lato","fontSize":18,"color":"#111111"},"encoding":{"x":{"datum":0.925,"type":"quantitative"},"y":{"datum":65.55,"type":"quantitative"},"text":{"field":"marker"}}}
  ]},
  {"width":134,"height":84,"layer":[
   {"data":{"name":"gates"},"transform":[{"filter":"datum.marker==='CD44'"}],"mark":{"type":"rect","filled":false,"stroke":"#3e70b6","strokeWidth":2},"encoding":{"x":{"datum":-0.418,"type":"quantitative"},"x2":{"datum":4.239},"y":{"datum":81.4,"type":"quantitative"},"y2":{"datum":-15.4}}},
   {"data":{"name":"histograms"},"transform":[{"filter":"datum.marker==='CD44'"}],"mark":{"type":"area","color":"#e3262b","stroke":"#5a1212","strokeWidth":0.6},"encoding":{"x":{"field":"fl","type":"quantitative","scale":{"domain":[0,4],"nice":false,"zero":false},"axis":{"title":"FL1 LOG","values":[0,0.301,0.477,0.602,0.699,0.778,0.845,0.903,0.954,1,1.301,1.477,1.602,1.699,1.778,1.845,1.903,1.954,2,2.301,2.477,2.602,2.699,2.778,2.845,2.903,2.954,3,3.301,3.477,3.602,3.699,3.778,3.845,3.903,3.954,4],"labelExpr":"datum.value==1?'10¹':datum.value==2?'10²':datum.value==3?'10³':datum.value==4?'10⁴':''"}},"y":{"field":"count","type":"quantitative","scale":{"domain":[0,72],"nice":false,"zero":false},"axis":{"title":null,"values":[0,9,18,27,36,45,54,63,72],"labelExpr":"datum.index==1?datum.label:''"}}}},
   {"data":{"name":"gates"},"transform":[{"filter":"datum.marker==='CD44'"}],"mark":{"type":"rule","color":"#8c8c8c","strokeWidth":0.8},"encoding":{"x":{"field":"start","type":"quantitative"},"x2":{"field":"end"},"y":{"field":"level","type":"quantitative"}}},
   {"data":{"name":"gates"},"transform":[{"filter":"datum.marker==='CD44'"}],"mark":{"type":"text","align":"left","dx":-3,"dy":-13,"fontSize":5.5,"color":"#333333"},"encoding":{"x":{"field":"end","type":"quantitative"},"y":{"field":"level","type":"quantitative"},"text":{"field":"gate"}}},
   {"data":{"name":"gates"},"transform":[{"filter":"datum.marker==='CD44'"}],"mark":{"type":"text","align":"left","dx":-3,"dy":-7,"fontSize":5.5,"color":"#333333"},"encoding":{"x":{"field":"end","type":"quantitative"},"y":{"field":"level","type":"quantitative"},"text":{"field":"pct"}}},
   {"data":{"name":"gates"},"transform":[{"filter":"datum.marker==='CD44'"}],"mark":{"type":"rect","fill":"#ffffff","stroke":"#3d6db4","strokeWidth":2.5},"encoding":{"x":{"datum":0.03,"type":"quantitative"},"x2":{"datum":1.73},"y":{"datum":75.4,"type":"quantitative"},"y2":{"datum":52.3}}},
   {"data":{"name":"gates"},"transform":[{"filter":"datum.marker==='CD44'"}],"mark":{"type":"text","font":"Lato","fontSize":18,"color":"#111111"},"encoding":{"x":{"datum":0.88,"type":"quantitative"},"y":{"datum":63.85,"type":"quantitative"},"text":{"field":"marker"}}}
  ]},
  {"width":134,"height":84,"layer":[
   {"data":{"name":"gates"},"transform":[{"filter":"datum.marker==='CD73'"}],"mark":{"type":"rect","filled":false,"stroke":"#3e70b6","strokeWidth":2},"encoding":{"x":{"datum":-0.418,"type":"quantitative"},"x2":{"datum":4.239},"y":{"datum":74.6,"type":"quantitative"},"y2":{"datum":-14.1}}},
   {"data":{"name":"histograms"},"transform":[{"filter":"datum.marker==='CD73'"}],"mark":{"type":"area","color":"#e3262b","stroke":"#5a1212","strokeWidth":0.6},"encoding":{"x":{"field":"fl","type":"quantitative","scale":{"domain":[0,4],"nice":false,"zero":false},"axis":{"title":"FL1 LOG","values":[0,0.301,0.477,0.602,0.699,0.778,0.845,0.903,0.954,1,1.301,1.477,1.602,1.699,1.778,1.845,1.903,1.954,2,2.301,2.477,2.602,2.699,2.778,2.845,2.903,2.954,3,3.301,3.477,3.602,3.699,3.778,3.845,3.903,3.954,4],"labelExpr":"datum.value==1?'10¹':datum.value==2?'10²':datum.value==3?'10³':datum.value==4?'10⁴':''"}},"y":{"field":"count","type":"quantitative","scale":{"domain":[0,66],"nice":false,"zero":false},"axis":{"title":null,"values":[0,8.3,16.5,24.8,33,41.3,49.5,57.8,66],"labelExpr":"datum.index==1?datum.label:''"}}}},
   {"data":{"name":"gates"},"transform":[{"filter":"datum.marker==='CD73'"}],"mark":{"type":"rule","color":"#8c8c8c","strokeWidth":0.8},"encoding":{"x":{"field":"start","type":"quantitative"},"x2":{"field":"end"},"y":{"field":"level","type":"quantitative"}}},
   {"data":{"name":"gates"},"transform":[{"filter":"datum.marker==='CD73'"}],"mark":{"type":"text","align":"left","dx":-3,"dy":-13,"fontSize":5.5,"color":"#333333"},"encoding":{"x":{"field":"end","type":"quantitative"},"y":{"field":"level","type":"quantitative"},"text":{"field":"gate"}}},
   {"data":{"name":"gates"},"transform":[{"filter":"datum.marker==='CD73'"}],"mark":{"type":"text","align":"left","dx":-3,"dy":-7,"fontSize":5.5,"color":"#333333"},"encoding":{"x":{"field":"end","type":"quantitative"},"y":{"field":"level","type":"quantitative"},"text":{"field":"pct"}}},
   {"data":{"name":"gates"},"transform":[{"filter":"datum.marker==='CD73'"}],"mark":{"type":"rect","fill":"#ffffff","stroke":"#3d6db4","strokeWidth":2.5},"encoding":{"x":{"datum":2.15,"type":"quantitative"},"x2":{"datum":4.09},"y":{"datum":69.9,"type":"quantitative"},"y2":{"datum":48.7}}},
   {"data":{"name":"gates"},"transform":[{"filter":"datum.marker==='CD73'"}],"mark":{"type":"text","font":"Lato","fontSize":18,"color":"#111111"},"encoding":{"x":{"datum":3.12,"type":"quantitative"},"y":{"datum":59.3,"type":"quantitative"},"text":{"field":"marker"}}}
  ]},
  {"width":134,"height":84,"layer":[
   {"data":{"name":"gates"},"transform":[{"filter":"datum.marker==='CD90'"}],"mark":{"type":"rect","filled":false,"stroke":"#3e70b6","strokeWidth":2},"encoding":{"x":{"datum":-0.418,"type":"quantitative"},"x2":{"datum":4.239},"y":{"datum":65.6,"type":"quantitative"},"y2":{"datum":-12.4}}},
   {"data":{"name":"histograms"},"transform":[{"filter":"datum.marker==='CD90'"}],"mark":{"type":"area","color":"#e3262b","stroke":"#5a1212","strokeWidth":0.6},"encoding":{"x":{"field":"fl","type":"quantitative","scale":{"domain":[0,4],"nice":false,"zero":false},"axis":{"title":"FL2 LOG","values":[0,0.301,0.477,0.602,0.699,0.778,0.845,0.903,0.954,1,1.301,1.477,1.602,1.699,1.778,1.845,1.903,1.954,2,2.301,2.477,2.602,2.699,2.778,2.845,2.903,2.954,3,3.301,3.477,3.602,3.699,3.778,3.845,3.903,3.954,4],"labelExpr":"datum.value==1?'10¹':datum.value==2?'10²':datum.value==3?'10³':datum.value==4?'10⁴':''"}},"y":{"field":"count","type":"quantitative","scale":{"domain":[0,58],"nice":false,"zero":false},"axis":{"title":null,"values":[0,7.25,14.5,21.75,29,36.25,43.5,50.75,58],"labelExpr":"datum.index==1?datum.label:''"}}}},
   {"data":{"name":"gates"},"transform":[{"filter":"datum.marker==='CD90'"}],"mark":{"type":"rule","color":"#8c8c8c","strokeWidth":0.8},"encoding":{"x":{"field":"start","type":"quantitative"},"x2":{"field":"end"},"y":{"field":"level","type":"quantitative"}}},
   {"data":{"name":"gates"},"transform":[{"filter":"datum.marker==='CD90'"}],"mark":{"type":"text","align":"right","dy":-13,"fontSize":5.5,"color":"#333333"},"encoding":{"x":{"field":"end","type":"quantitative"},"y":{"field":"level","type":"quantitative"},"text":{"field":"gate"}}},
   {"data":{"name":"gates"},"transform":[{"filter":"datum.marker==='CD90'"}],"mark":{"type":"text","align":"right","dy":-7,"fontSize":5.5,"color":"#333333"},"encoding":{"x":{"field":"end","type":"quantitative"},"y":{"field":"level","type":"quantitative"},"text":{"field":"pct"}}},
   {"data":{"name":"gates"},"transform":[{"filter":"datum.marker==='CD90'"}],"mark":{"type":"rect","fill":"#ffffff","stroke":"#3d6db4","strokeWidth":2.5},"encoding":{"x":{"datum":2.0,"type":"quantitative"},"x2":{"datum":4.03},"y":{"datum":61.5,"type":"quantitative"},"y2":{"datum":42.8}}},
   {"data":{"name":"gates"},"transform":[{"filter":"datum.marker==='CD90'"}],"mark":{"type":"text","font":"Lato","fontSize":18,"color":"#111111"},"encoding":{"x":{"datum":3.015,"type":"quantitative"},"y":{"datum":52.15,"type":"quantitative"},"text":{"field":"marker"}}}
  ]},
  {"width":134,"height":84,"layer":[
   {"data":{"name":"gates"},"transform":[{"filter":"datum.marker==='CD105'"}],"mark":{"type":"rect","filled":false,"stroke":"#3e70b6","strokeWidth":2},"encoding":{"x":{"datum":-0.418,"type":"quantitative"},"x2":{"datum":4.239},"y":{"datum":66.7,"type":"quantitative"},"y2":{"datum":-12.6}}},
   {"data":{"name":"histograms"},"transform":[{"filter":"datum.marker==='CD105'"}],"mark":{"type":"area","color":"#e3262b","stroke":"#5a1212","strokeWidth":0.6},"encoding":{"x":{"field":"fl","type":"quantitative","scale":{"domain":[0,4],"nice":false,"zero":false},"axis":{"title":"FL2 LOG","values":[0,0.301,0.477,0.602,0.699,0.778,0.845,0.903,0.954,1,1.301,1.477,1.602,1.699,1.778,1.845,1.903,1.954,2,2.301,2.477,2.602,2.699,2.778,2.845,2.903,2.954,3,3.301,3.477,3.602,3.699,3.778,3.845,3.903,3.954,4],"labelExpr":"datum.value==1?'10¹':datum.value==2?'10²':datum.value==3?'10³':datum.value==4?'10⁴':''"}},"y":{"field":"count","type":"quantitative","scale":{"domain":[0,59],"nice":false,"zero":false},"axis":{"title":null,"values":[0,7.4,14.8,22.1,29.5,36.9,44.3,51.6,59],"labelExpr":"datum.index==1?datum.label:''"}}}},
   {"data":{"name":"gates"},"transform":[{"filter":"datum.marker==='CD105'"}],"mark":{"type":"rule","color":"#8c8c8c","strokeWidth":0.8},"encoding":{"x":{"field":"start","type":"quantitative"},"x2":{"field":"end"},"y":{"field":"level","type":"quantitative"}}},
   {"data":{"name":"gates"},"transform":[{"filter":"datum.marker==='CD105'"}],"mark":{"type":"text","align":"right","dy":-13,"fontSize":5.5,"color":"#333333"},"encoding":{"x":{"field":"end","type":"quantitative"},"y":{"field":"level","type":"quantitative"},"text":{"field":"gate"}}},
   {"data":{"name":"gates"},"transform":[{"filter":"datum.marker==='CD105'"}],"mark":{"type":"text","align":"right","dy":-7,"fontSize":5.5,"color":"#333333"},"encoding":{"x":{"field":"end","type":"quantitative"},"y":{"field":"level","type":"quantitative"},"text":{"field":"pct"}}},
   {"data":{"name":"gates"},"transform":[{"filter":"datum.marker==='CD105'"}],"mark":{"type":"rect","fill":"#ffffff","stroke":"#3d6db4","strokeWidth":2.5},"encoding":{"x":{"datum":2.03,"type":"quantitative"},"x2":{"datum":4.18},"y":{"datum":62.5,"type":"quantitative"},"y2":{"datum":41.4}}},
   {"data":{"name":"gates"},"transform":[{"filter":"datum.marker==='CD105'"}],"mark":{"type":"text","font":"Lato","fontSize":18,"color":"#111111"},"encoding":{"x":{"datum":3.105,"type":"quantitative"},"y":{"datum":51.95,"type":"quantitative"},"text":{"field":"marker"}}}
  ]}
 ]}
],
"spacing":0
}
